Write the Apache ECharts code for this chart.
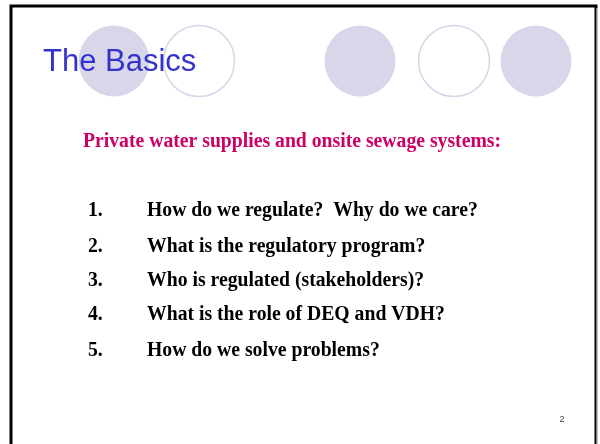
<!DOCTYPE html>
<html>
<head>
<meta charset="utf-8">
<script src="https://cdn.jsdelivr.net/npm/echarts@6/dist/echarts.min.js"></script>
<style>
  html, body { margin: 0; padding: 0; background: #fff; }
  #slide { width: 600px; height: 444px; }
</style>
</head>
<body>
<div id="slide"></div>
<script>
// slide content
var slideTitle = 'The Basics'
var subTitle = 'Private water supplies and onsite sewage systems:'
var itemNumbers = ['1.', '2.', '3.', '4.', '5.']
var itemTexts = [
  'How do we regulate?  Why do we care?',
  'What is the regulatory program?',
  'Who is regulated (stakeholders)?',
  'What is the role of DEQ and VDH?',
  'How do we solve problems?'
]
var pageNumber = '2'

// decorative circles across the top: filled or outlined
var circleKinds = ['filled', 'outline', 'filled', 'outline', 'filled']

// layout
var circleX = [114, 199, 360, 454, 536]
var rowBaselines = [217, 253, 287, 321, 357]
var lavender = '#d9d6ea'
var bodyFont = 'bold 20px "Liberation Serif", "Times New Roman", serif'

var graphics = []

// frame
graphics.push({
  type: 'polyline',
  shape: { points: [[11, 444], [11, 6], [596, 6], [596, 444]] },
  style: { stroke: '#000', lineWidth: 3, fill: null }
})
graphics.push({
  type: 'line',
  shape: { x1: 597, y1: 8, x2: 597, y2: 444 },
  style: { stroke: '#fff', lineWidth: 1 }
})

circleKinds.forEach(function (kind, i) {
  graphics.push({
    type: 'circle',
    shape: { cx: circleX[i], cy: 61, r: 35.5 },
    style: kind === 'filled'
      ? { fill: lavender }
      : { fill: null, stroke: lavender, lineWidth: 1.5 }
  })
})

graphics.push({
  type: 'text',
  x: 43,
  y: 62,
  style: {
    text: slideTitle,
    font: '31px "Liberation Sans", Arial, sans-serif',
    fill: '#3333cc',
    verticalAlign: 'middle'
  }
})

// body text, squeezed slightly to the measured widths
function bodyText (x, y, text, color) {
  return {
    type: 'text',
    x: x,
    y: y,
    scaleX: 0.985,
    style: { text: text, font: bodyFont, fill: color, verticalAlign: 'middle' }
  }
}

graphics.push(bodyText(83, 142, subTitle, '#cc0066'))

itemTexts.forEach(function (t, i) {
  var y = rowBaselines[i] - 6
  graphics.push(bodyText(88, y, itemNumbers[i], '#000'))
  graphics.push(bodyText(147, y, t, '#000'))
})

graphics.push({
  type: 'text',
  x: 562,
  y: 420,
  style: {
    text: pageNumber,
    font: '9px "Liberation Sans", Arial, sans-serif',
    fill: '#404040',
    align: 'center',
    verticalAlign: 'middle'
  }
})

var chart = echarts.init(document.getElementById('slide'), null, { renderer: 'canvas' })
chart.setOption({
  backgroundColor: '#fff',
  animation: false,
  graphic: { elements: graphics }
})
</script>
</body>
</html>
